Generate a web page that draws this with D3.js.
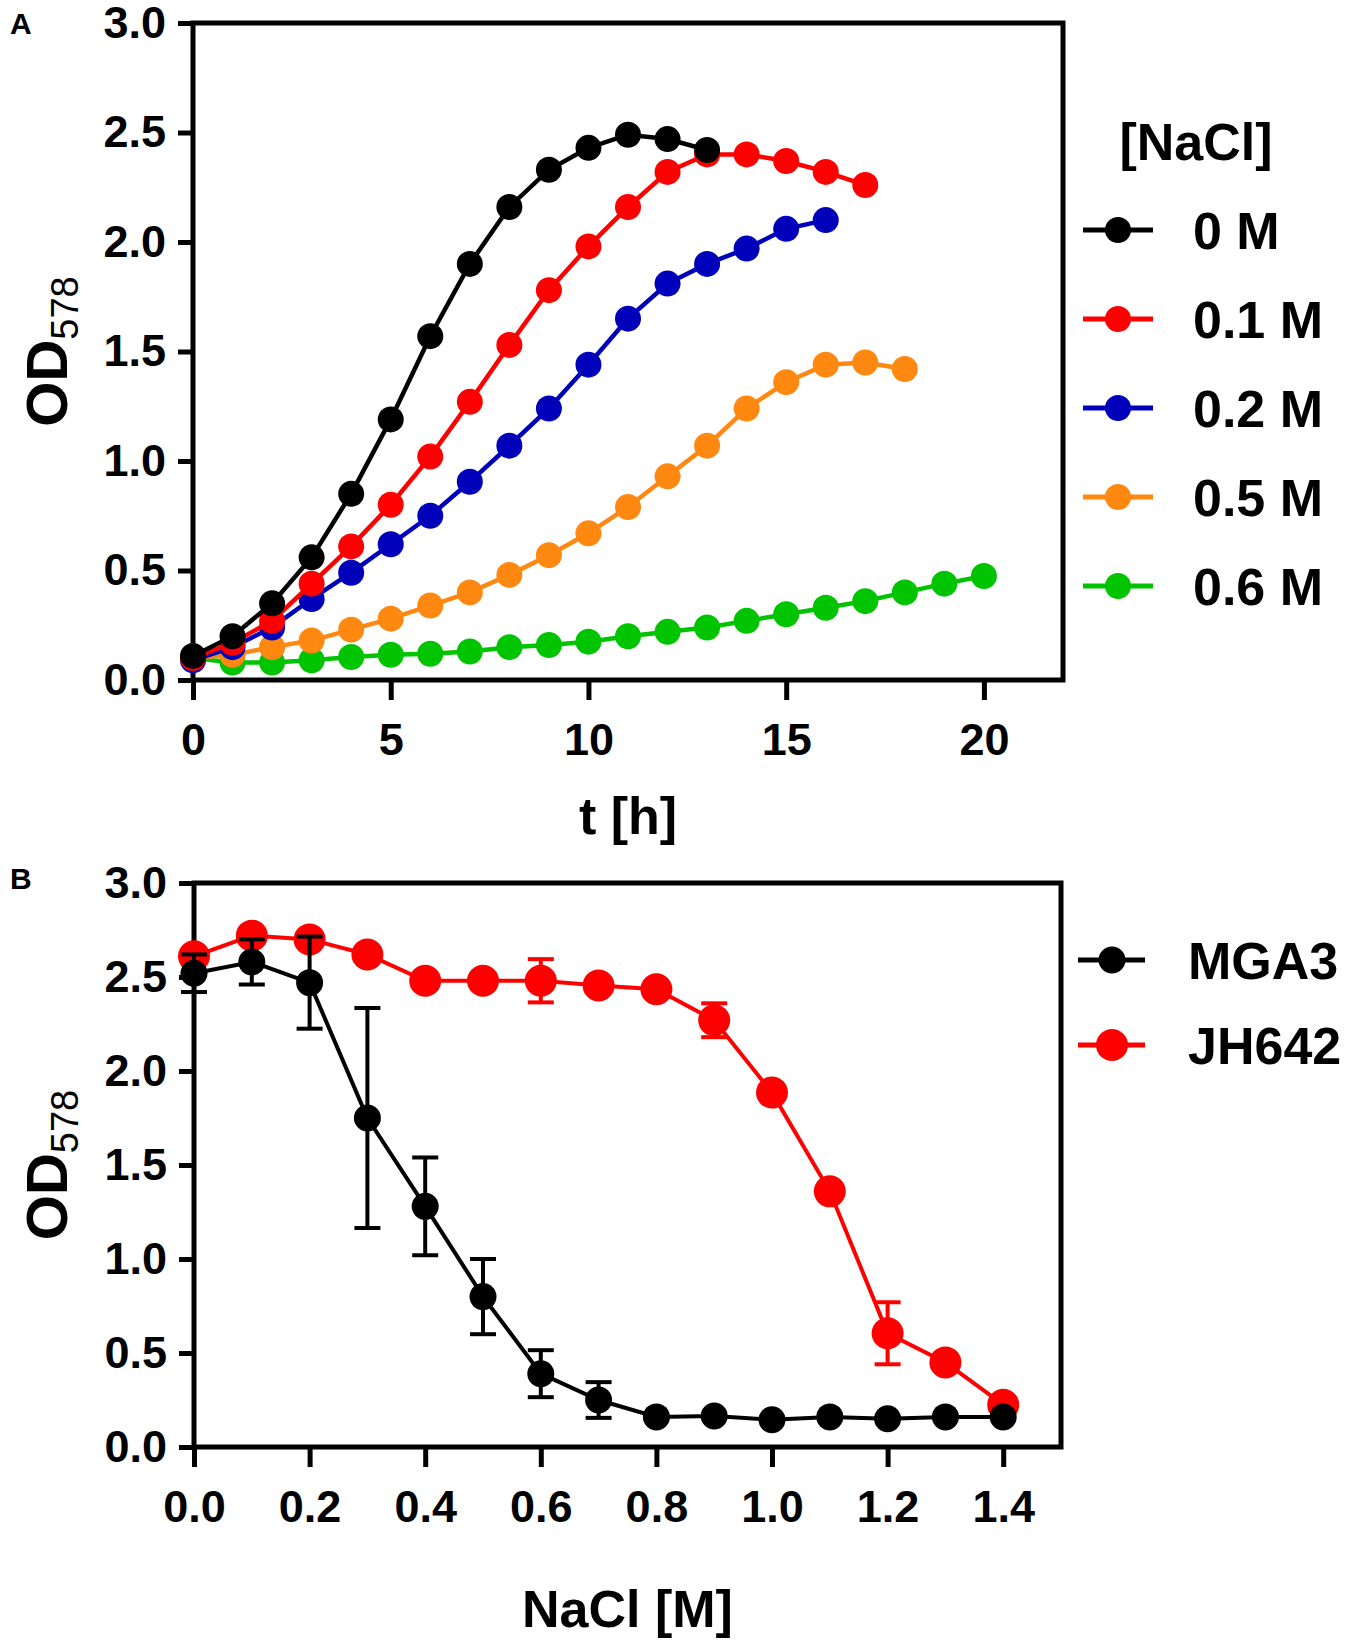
<!DOCTYPE html>
<html>
<head>
<meta charset="utf-8">
<script src="https://cdn.jsdelivr.net/npm/d3@7"></script>
<style>
  body { margin: 0; background: #fff; }
  svg { display: block; }
  text { font-family: "Liberation Sans", Arial, sans-serif; }
</style>
</head>
<body>
<svg id="fig" width="1350" height="1647"></svg>
<script>
// ---- DATA : panel A (growth curves) ----
const hours = [0, 1, 2, 3, 4, 5, 6, 7, 8, 9, 10, 11, 12, 13, 14, 15, 16, 17, 18, 19, 20];
const od0M  = [0.11, 0.20, 0.35, 0.56, 0.85, 1.19, 1.57, 1.90, 2.16, 2.33, 2.43, 2.49, 2.47, 2.42];
const od01M = [0.10, 0.17, 0.27, 0.44, 0.61, 0.80, 1.02, 1.27, 1.53, 1.78, 1.98, 2.16, 2.32, 2.40, 2.40, 2.37, 2.32, 2.26];
const od02M = [0.09, 0.15, 0.24, 0.37, 0.49, 0.62, 0.75, 0.905, 1.07, 1.24, 1.44, 1.65, 1.81, 1.90, 1.97, 2.06, 2.10];
const od05M = [0.10, 0.115, 0.15, 0.18, 0.23, 0.28, 0.34, 0.40, 0.48, 0.57, 0.67, 0.79, 0.93, 1.07, 1.24, 1.36, 1.44, 1.45, 1.42];
const od06M = [0.10, 0.08, 0.08, 0.09, 0.105, 0.115, 0.12, 0.13, 0.15, 0.16, 0.175, 0.20, 0.22, 0.24, 0.27, 0.30, 0.33, 0.36, 0.40, 0.44, 0.475];
const seriesNamesA = ["0 M", "0.1 M", "0.2 M", "0.5 M", "0.6 M"];
const seriesColorsA = ["#000000", "#ff0000", "#0000bb", "#ff8811", "#00c400"];
const xTicksA = [0, 5, 10, 15, 20];

// ---- DATA : panel B (NaCl tolerance) ----
const nacl     = [0.0, 0.1, 0.2, 0.3, 0.4, 0.5, 0.6, 0.7, 0.8, 0.9, 1.0, 1.1, 1.2, 1.3, 1.4];
const mga3     = [2.52, 2.58, 2.47, 1.75, 1.28, 0.80, 0.39, 0.25, 0.16, 0.165, 0.145, 0.16, 0.15, 0.16, 0.16];
const mga3Err  = [0.10, 0.12, 0.245, 0.585, 0.26, 0.20, 0.125, 0.095, 0, 0, 0, 0, 0, 0, 0];
const jh642    = [2.61, 2.72, 2.70, 2.62, 2.48, 2.48, 2.48, 2.455, 2.435, 2.27, 1.885, 1.36, 0.605, 0.45, 0.225];
const jh642Err = [0, 0, 0, 0, 0, 0, 0.115, 0, 0, 0.09, 0, 0, 0.165, 0, 0];
const seriesNamesB = ["MGA3", "JH642"];
const seriesColorsB = ["#000000", "#ff0000"];
const xTicksB = [0.0, 0.2, 0.4, 0.6, 0.8, 1.0, 1.2, 1.4];

const yTicks = [0.0, 0.5, 1.0, 1.5, 2.0, 2.5, 3.0];

const svg = d3.select("#fig");
svg.append("rect").attr("width", 1350).attr("height", 1647).attr("fill", "#fff");

const AXIS_W = 5;

// draws frame + axes for one panel, returns scales
function drawFrame(box, xDomain, xTicks, xFmt, xLabel, panelLetter, letterY) {
  const x = d3.scaleLinear().domain(xDomain).range([box.left, box.right]);
  const y = d3.scaleLinear().domain([0, 3]).range([box.bottom, box.top]);

  const g = svg.append("g");

  // frame
  g.append("rect")
    .attr("x", box.left).attr("y", box.top)
    .attr("width", box.right - box.left)
    .attr("height", box.bottom - box.top)
    .attr("fill", "none")
    .attr("stroke", "#000")
    .attr("stroke-width", AXIS_W);

  const yAxis = d3.axisLeft(y)
    .tickValues(yTicks)
    .tickFormat(d3.format(".1f"))
    .tickSize(15)
    .tickSizeOuter(0)
    .tickPadding(12);

  const xAxis = d3.axisBottom(x)
    .tickValues(xTicks)
    .tickFormat(xFmt)
    .tickSize(20)
    .tickSizeOuter(0)
    .tickPadding(23);

  const ya = g.append("g").attr("transform", `translate(${box.left},0)`).call(yAxis);
  const xa = g.append("g").attr("transform", `translate(0,${box.bottom})`).call(xAxis);

  [ya, xa].forEach(a => {
    a.select(".domain").remove();
    a.selectAll(".tick line").attr("stroke", "#000").attr("stroke-width", AXIS_W);
    a.selectAll(".tick text")
      .attr("fill", "#000")
      .attr("font-size", 45)
      .attr("font-weight", "bold")
      .attr("font-family", "Liberation Sans, Arial, sans-serif");
  });

  // x axis title
  g.append("text")
    .attr("x", (box.left + box.right) / 2)
    .attr("y", xLabel.y)
    .attr("text-anchor", "middle")
    .attr("font-size", 52)
    .attr("font-weight", "bold")
    .text(xLabel.text);

  // y axis title OD578
  const cy = (box.top + box.bottom) / 2;
  const yt = g.append("text")
    .attr("transform", `translate(67,${cy}) rotate(-90)`)
    .attr("text-anchor", "middle")
    .attr("font-size", 58)
    .attr("font-weight", "bold");
  yt.append("tspan").text("OD");
  yt.append("tspan")
    .attr("font-size", 38)
    .attr("font-weight", "normal")
    .attr("dy", 11)
    .text("578");

  // panel letter
  svg.append("text")
    .attr("x", 10).attr("y", letterY)
    .attr("font-size", 30)
    .attr("font-weight", "bold")
    .text(panelLetter);

  return { x, y };
}

// ---- PANEL A ----
const boxA = { left: 193, right: 1063, top: 23, bottom: 680 };
const sA = drawFrame(boxA, [0, 22], xTicksA, d3.format("d"), { text: "t [h]", y: 834 }, "A", 34);

const seriesA = [od0M, od01M, od02M, od05M, od06M];
const lineA = d3.line()
  .x((d, i) => sA.x(hours[i]))
  .y(d => sA.y(d));

// draw from the last series (green) up to black on top
const gA = svg.append("g");
d3.range(seriesA.length).reverse().forEach(k => {
  const vals = seriesA[k];
  const col = seriesColorsA[k];
  const gs = gA.append("g");
  gs.append("path")
    .datum(vals)
    .attr("d", lineA)
    .attr("fill", "none")
    .attr("stroke", col)
    .attr("stroke-width", 4.5);
  gs.selectAll("circle")
    .data(vals)
    .join("circle")
    .attr("cx", (d, i) => sA.x(hours[i]))
    .attr("cy", d => sA.y(d))
    .attr("r", 13)
    .attr("fill", col);
});

// legend A
const legA = svg.append("g");
legA.append("text")
  .attr("x", 1196).attr("y", 160)
  .attr("text-anchor", "middle")
  .attr("font-size", 52)
  .attr("font-weight", "bold")
  .text("[NaCl]");

seriesNamesA.forEach((name, i) => {
  const cy = 230 + i * 89;
  const col = seriesColorsA[i];
  legA.append("line")
    .attr("x1", 1083).attr("x2", 1153)
    .attr("y1", cy).attr("y2", cy)
    .attr("stroke", col).attr("stroke-width", 5);
  legA.append("circle")
    .attr("cx", 1118).attr("cy", cy).attr("r", 13).attr("fill", col);
  legA.append("text")
    .attr("x", 1193).attr("y", cy + 19)
    .attr("font-size", 52)
    .attr("font-weight", "bold")
    .text(name);
});

// ---- PANEL B ----
const boxB = { left: 194, right: 1061, top: 883, bottom: 1447 };
const sB = drawFrame(boxB, [0, 1.5], xTicksB, d3.format(".1f"), { text: "NaCl [M]", y: 1627 }, "B", 889);

const seriesB = [
  { vals: mga3, err: mga3Err, col: seriesColorsB[0], r: 13.5 },
  { vals: jh642, err: jh642Err, col: seriesColorsB[1], r: 16 }
];

const lineB = d3.line()
  .x((d, i) => sB.x(nacl[i]))
  .y(d => sB.y(d));

const gB = svg.append("g");
// red first, black on top
[seriesB[1], seriesB[0]].forEach(s => {
  const gs = gB.append("g");
  gs.append("path")
    .datum(s.vals)
    .attr("d", lineB)
    .attr("fill", "none")
    .attr("stroke", s.col)
    .attr("stroke-width", 4);

  const bars = s.vals.map((v, i) => ({ x: nacl[i], v, e: s.err[i] })).filter(d => d.e > 0);
  const capW = 13;
  const eb = gs.selectAll("g.err").data(bars).join("g").attr("class", "err");
  eb.append("line")
    .attr("x1", d => sB.x(d.x)).attr("x2", d => sB.x(d.x))
    .attr("y1", d => sB.y(d.v + d.e)).attr("y2", d => sB.y(d.v - d.e))
    .attr("stroke", s.col).attr("stroke-width", 4);
  eb.append("line")
    .attr("x1", d => sB.x(d.x) - capW).attr("x2", d => sB.x(d.x) + capW)
    .attr("y1", d => sB.y(d.v + d.e)).attr("y2", d => sB.y(d.v + d.e))
    .attr("stroke", s.col).attr("stroke-width", 4);
  eb.append("line")
    .attr("x1", d => sB.x(d.x) - capW).attr("x2", d => sB.x(d.x) + capW)
    .attr("y1", d => sB.y(d.v - d.e)).attr("y2", d => sB.y(d.v - d.e))
    .attr("stroke", s.col).attr("stroke-width", 4);

  gs.selectAll("circle")
    .data(s.vals)
    .join("circle")
    .attr("cx", (d, i) => sB.x(nacl[i]))
    .attr("cy", d => sB.y(d))
    .attr("r", s.r)
    .attr("fill", s.col);
});

// legend B
const legB = svg.append("g");
seriesNamesB.forEach((name, i) => {
  const cy = 960 + i * 85;
  const s = seriesB[i];
  legB.append("line")
    .attr("x1", 1078).attr("x2", 1145)
    .attr("y1", cy).attr("y2", cy)
    .attr("stroke", s.col).attr("stroke-width", 5);
  legB.append("circle")
    .attr("cx", 1112).attr("cy", cy).attr("r", s.r).attr("fill", s.col);
  legB.append("text")
    .attr("x", 1188).attr("y", cy + 19)
    .attr("font-size", 52)
    .attr("font-weight", "bold")
    .text(name);
});
</script>
</body>
</html>
